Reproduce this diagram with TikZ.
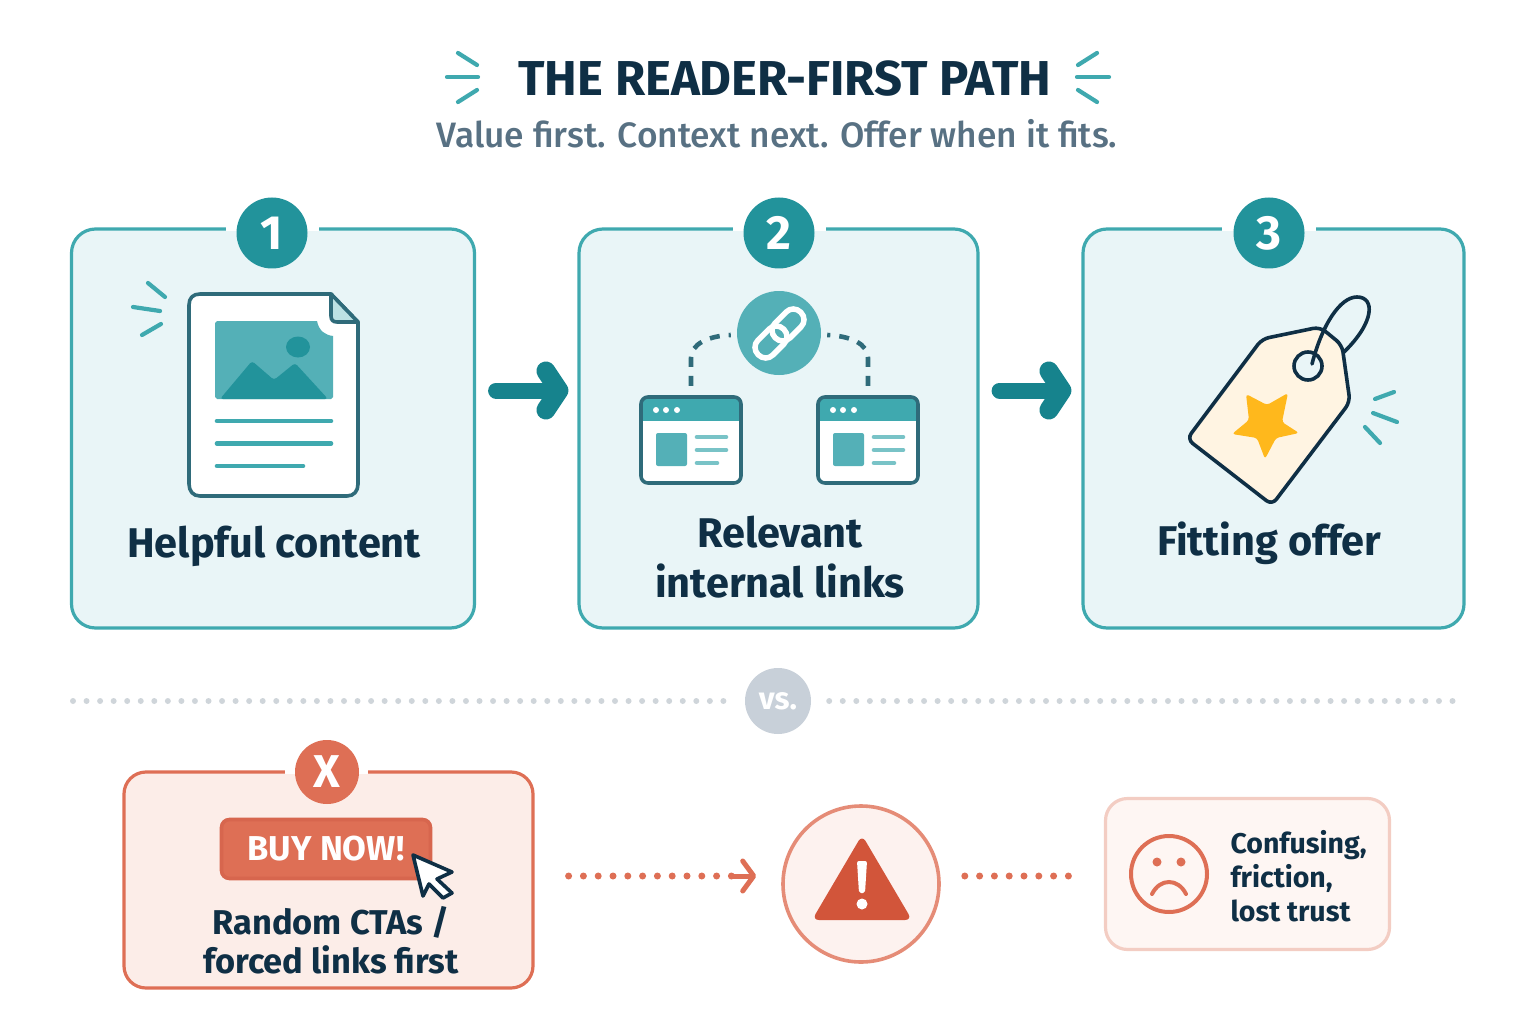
\documentclass[tikz,border=0pt]{standalone}
\usepackage{fontspec}
\setmainfont{Fira Sans}
\newfontfamily\subfont{Fira Sans Medium}
\usetikzlibrary{arrows.meta}
\tikzset{
    cardbox/.style={draw=tab_teal, fill=tab_pale, line width=3.2pt, rounded corners=24pt, inner sep=0pt},
    badge/.style={circle, fill=tab_deep, text=white, inner sep=0pt, minimum size=71pt, font=\bfseries\fontsize{48}{48}\selectfont},
    cardlabel/.style={text=tab_ink, align=center, font=\bfseries\fontsize{41.5}{50}\selectfont},
    spark/.style={draw=tab_teal, line width=4.2pt, line cap=round},
    icon/.style={draw=tab_slate, line width=3.6pt, line join=round},
    textbar/.style={draw=tab_teal, line width=4.6pt, line cap=round},
    flowarrow/.style={draw=tab_flow, line width=16pt, line cap=round, -{Straight Barb[round, length=13pt, width=39pt, line width=19pt]}},
    dotline/.style={line width=6pt, line cap=round, dash pattern=on 0pt off 13.55pt},
    reddots/.style={draw=tab_red, line width=7pt, line cap=round, dash pattern=on 0pt off 14.8pt},
    winbox/.style={rounded corners=7pt}
}
\begin{document}
\begin{tikzpicture}[x=1pt, y=-1pt]
    \definecolor{tab_teal}{HTML}{3FA9AF}
    \definecolor{tab_pale}{HTML}{E9F5F7}
    \definecolor{tab_deep}{HTML}{22939B}
    \definecolor{tab_flow}{HTML}{16838D}
    \definecolor{tab_soft}{HTML}{54B0B7}
    \definecolor{tab_slate}{HTML}{2F6B7A}
    \definecolor{tab_ink}{HTML}{0F2F45}
    \definecolor{tab_sub}{HTML}{587183}
    \definecolor{tab_red}{HTML}{DE6F55}
    \definecolor{tab_darkred}{HTML}{D2553A}
    \definecolor{tab_rose}{HTML}{FCEDE8}
    \definecolor{tab_star}{HTML}{FFB81C}
    \definecolor{tab_cream}{HTML}{FFF4E2}
    \definecolor{tab_grey}{HTML}{C8D0D9}
    %\draw[help lines] (0,0) grid (1536,1024);
    \useasboundingbox (0,0) rectangle (1536,1024);

    % title
    \node[text=tab_ink, font=\bfseries\fontsize{49}{49}\selectfont] (title) at (785,79) {THE READER-FIRST PATH};
    \node[text=tab_sub, font=\subfont\fontsize{35.3}{35.3}\selectfont] (subtitle) at (777,134) {Value first. Context next. Offer when it fits.};
    \draw[spark] (458,53) -- (477,65);
    \draw[spark] (447,77) -- (478,77);
    \draw[spark] (458,102) -- (477,90);
    \draw[spark] (1097,53) -- (1078,65);
    \draw[spark] (1077,77) -- (1109,77);
    \draw[spark] (1097,102) -- (1078,90);

    % cards
    \node[cardbox, minimum width=403pt, minimum height=399pt] (card1) at (273,428.5) {};
    \node[cardbox, minimum width=399pt, minimum height=399pt] (card2) at (778.5,428.5) {};
    \node[cardbox, minimum width=381pt, minimum height=399pt] (card3) at (1273.5,428.5) {};
    \fill[white] (226,226) rectangle (319,231);
    \fill[white] (733,226) rectangle (826,231);
    \fill[white] (1222,226) rectangle (1316,231);
    \node[badge] (badge1) at (272,233) {1};
    \node[badge] (badge2) at (779,233) {2};
    \node[badge] (badge3) at (1269,233) {3};
    \node[cardlabel] (label1) at (274,546) {Helpful content};
    \node[cardlabel] (label2) at (780,557) {Relevant\\internal links};
    \node[cardlabel] (label3) at (1269,543) {Fitting offer};
    \draw[flowarrow] ([xshift=20pt, yshift=38pt]card1.east) -- ([xshift=-9pt, yshift=38pt]card2.west);
    \draw[flowarrow] ([xshift=20pt, yshift=38pt]card2.east) -- ([xshift=-10pt, yshift=38pt]card3.west);

    % document
    \draw[spark] (148,283) -- (165,297);
    \draw[spark] (133,307) -- (160,311);
    \draw[spark] (142,335) -- (161,324);
    \path[icon, fill=white] (200,294) -- (331,294) -- (358,322) -- (358,484)
        .. controls (358,491) and (354,496) .. (347,496) -- (200,496)
        .. controls (193,496) and (189,491) .. (189,484) -- (189,305)
        .. controls (189,298) and (193,294) .. (200,294) -- cycle;
    \path[icon, fill=tab_teal!35] (331,294) -- (331,316) .. controls (331,320) and (333,322) .. (337,322) -- (358,322) -- cycle;
    \fill[tab_soft] (217,321) -- (317,321) .. controls (319,331) and (325,335) .. (333,336) -- (333,397)
        -- (331,399) -- (217,399) -- (215,397) -- (215,323) -- cycle;
    \fill[tab_deep] (298,347) ellipse (12 and 10.5);
    \fill[tab_deep, rounded corners=3pt] (220,399) -- (252,361) -- (274,380) -- (295,363) -- (328,399) -- cycle;
    \draw[textbar] (217,421) -- (331,421);
    \draw[textbar] (217,443.5) -- (331,443.5);
    \draw[textbar] (217,466) -- (303,466);

    % linked pages
    \foreach \winx/\winname in {641/win1, 818/win2} {
        \node[minimum width=100pt, minimum height=86pt, inner sep=0pt] (\winname) at (\winx+50,440) {};
        \fill[white, winbox] (\winx,397) rectangle (\winx+100,483);
        \begin{scope}
            \clip[winbox] (\winx,397) rectangle (\winx+100,483);
            \fill[tab_teal] (\winx,397) rectangle (\winx+100,421);
        \end{scope}
        \draw[icon, winbox] (\winx,397) rectangle (\winx+100,483);
        \foreach \dotx in {15,25,36}
            \fill[white] (\winx+\dotx,410) circle (3);
        \fill[tab_soft, rounded corners=2pt] (\winx+15,433) rectangle (\winx+46,466);
        \draw[textbar, draw=tab_teal!70] (\winx+56,437) -- (\winx+85,437);
        \draw[textbar, draw=tab_teal!70] (\winx+56,450) -- (\winx+85,450);
        \draw[textbar, draw=tab_teal!70] (\winx+56,463) -- (\winx+76,463);
    }
    \node[circle, fill=tab_soft, minimum size=84pt, inner sep=0pt] (link) at (779,333) {};
    \draw[white, line width=5.5pt, rounded corners=10pt, shift={(771,342)}, rotate=45] (-18,-10.5) rectangle (18,10.5);
    \draw[white, line width=5.5pt, rounded corners=10pt, shift={(788,325)}, rotate=45] (-18,-10.5) rectangle (18,10.5);
    \draw[tab_slate, line width=4.6pt, dash pattern=on 10pt off 9pt]
        ([yshift=11pt]win1.north) -- (691,358) .. controls (691,344) and (708,336) .. ([xshift=-6pt, yshift=-2pt]link.west);
    \draw[tab_slate, line width=4.6pt, dash pattern=on 10pt off 9pt]
        ([yshift=11pt]win2.north) -- (868,358) .. controls (868,344) and (851,336) .. ([xshift=6pt, yshift=-2pt]link.east);

    % tag
    \draw[tab_ink, line width=3.6pt, fill=tab_cream, rounded corners=7pt]
        (1262,339) -- (1320,327) -- (1342,345) -- (1350,402) -- (1272,505) -- (1187,439) -- cycle;
    \fill[tab_star, rounded corners=3pt] (1246,394) -- (1267,405) -- (1288,393) -- (1282,422) -- (1299,433)
        -- (1276,438) -- (1265,459) -- (1257,438) -- (1232,434) -- (1249,420) -- cycle;
    \draw[tab_ink, line width=3.6pt, fill=tab_pale] (1308,366) circle (14);
    \draw[tab_ink, line width=3.6pt, line cap=round] (1312,364) .. controls (1322,325) and (1340,297) .. (1357,297)
        .. controls (1375,297) and (1375,322) .. (1344,352);
    \draw[spark] (1375,399) -- (1394,392);
    \draw[spark] (1373,413) -- (1397,422);
    \draw[spark] (1365,427) -- (1380,443);

    % divider
    \node[circle, fill=tab_grey, text=white, minimum size=66pt, inner sep=0pt, font=\bfseries\fontsize{31}{31}\selectfont] (vs) at (778,701) {vs.};
    \coordinate (dotsleft) at (73,701);
    \coordinate (dotsright) at (1465,701);
    \draw[dotline, draw=tab_ink!20] (dotsleft) -- ([xshift=-18pt]vs.west);
    \draw[dotline, draw=tab_ink!20] ([xshift=18pt]vs.east) -- (dotsright);

    % bad path
    \node[cardbox, draw=tab_red, fill=tab_rose, rounded corners=22pt, minimum width=409pt, minimum height=216pt] (badcard) at (328.5,880) {};
    \fill[white] (285,769) rectangle (368,773.5);
    \node[badge, fill=tab_red, minimum size=64pt, font=\bfseries\fontsize{46}{46}\selectfont] (cross) at (327,772) {X};
    \node[draw=tab_darkred!90, fill=tab_red, line width=3.6pt, rounded corners=8pt, minimum width=209pt, minimum height=59pt, inner sep=0pt,
        text=white, font=\bfseries\fontsize{34.5}{34.5}\selectfont] (buy) at (326,849) {BUY NOW!};
    \path[icon, draw=tab_ink, fill=white] (413,855) -- (452,872) -- (437,879) -- (452,893) -- (443,898) -- (429,884) -- (423,896) -- cycle;
    \node[cardlabel, font=\bfseries\fontsize{34.4}{39}\selectfont] (badlabel) at (331,940) {Random CTAs /\\forced links first};
    \node[circle, draw=tab_red!80, fill=tab_rose!70, line width=3.6pt, minimum size=156pt, inner sep=0pt] (warn) at (861,884) {};
    \fill[tab_darkred, rounded corners=7pt] (862,835) -- (912,920) -- (812,920) -- cycle;
    \fill[white, rounded corners=2pt] (857,861) -- (867,861) -- (865,893) -- (859,893) -- cycle;
    \fill[white] (862,904) circle (5.5);
    \node[cardbox, draw=tab_red!35, fill=tab_rose!50, rounded corners=22pt, minimum width=284pt, minimum height=151pt] (facecard) at (1247.5,874) {};
    \draw[tab_red, line width=4pt] (1169,874) circle (38);
    \fill[tab_red] (1157,862) circle (4.5);
    \fill[tab_red] (1181,862) circle (4.5);
    \draw[tab_red, line width=4pt, line cap=round] (1152,894) .. controls (1160,878) and (1178,878) .. (1186,894);
    \node[text=tab_ink, anchor=west, align=left, font=\bfseries\fontsize{28.5}{34}\selectfont] (facelabel) at (1227,876) {Confusing,\\friction,\\lost trust};
    \coordinate (arrowstart) at (732,876);
    \draw[reddots] ([xshift=34pt, yshift=4pt]badcard.east) -- (arrowstart);
    \draw[tab_red, line width=5pt, line cap=round, -{Straight Barb[round, length=11pt, width=30pt, line width=5pt]}] (arrowstart) -- ([xshift=-25pt, yshift=8pt]warn.west);
    \draw[reddots] ([xshift=24pt, yshift=8pt]warn.east) -- ([xshift=-30pt, yshift=-2pt]facecard.west);
\end{tikzpicture}
\end{document}
